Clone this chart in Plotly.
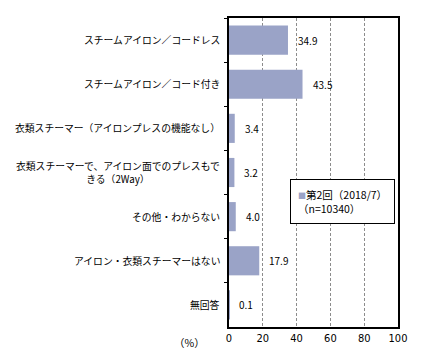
import plotly.graph_objects as go

categories = [
    "スチームアイロン／コードレス",
    "スチームアイロン／コード付き",
    "衣類スチーマー（アイロンプレスの機能なし）",
    "衣類スチーマーで、アイロン面でのプレスもで<br>きる（2Way）",
    "その他・わからない",
    "アイロン・衣類スチーマーはない",
    "無回答",
]
values = [34.9, 43.5, 3.4, 3.2, 4.0, 17.9, 0.1]
series_name = "第2回（2018/7）"
sample_note = "（n=10340）"
x_ticks = [0, 20, 40, 60, 80, 100]

BAR = "#9aa3c7"
FONT = "Noto Sans CJK JP"

fig = go.Figure()
fig.add_trace(go.Bar(
    y=categories, x=values, orientation="h",
    marker=dict(color=BAR, line=dict(width=0)),
    width=0.66, showlegend=False, hoverinfo="skip",
))

annotations = []
for c, v in zip(categories, values):
    annotations.append(dict(
        x=v, y=c, xref="x", yref="y", text=f"{v:.1f}", showarrow=False,
        xanchor="left", xshift=8, font=dict(size=10, color="black", family=FONT),
    ))
    annotations.append(dict(
        x=0, y=c, xref="paper", yref="y", text=c, showarrow=False,
        xanchor="right", xshift=-7, align="center",
        font=dict(size=9.8, color="black", family=FONT),
    ))
annotations.append(dict(
    x=0, y=0, xref="paper", yref="paper", text="（%）", showarrow=False,
    xanchor="right", yanchor="top", xshift=-22, yshift=-6,
    font=dict(size=10.5, color="black", family=FONT),
))
annotations.append(dict(
    x=0.36, y=0.48, xref="paper", yref="paper",
    text=f"<span style='color:{BAR};font-size:8px'>■</span>{series_name}<br>{sample_note}",
    showarrow=False, xanchor="left", yanchor="top", align="left",
    bordercolor="black", borderwidth=1, borderpad=7, bgcolor="white",
    font=dict(size=10.5, color="black", family=FONT),
))

fig.update_layout(
    width=421, height=357,
    margin=dict(l=229, r=23, t=18, b=30, autoexpand=False),
    plot_bgcolor="white", paper_bgcolor="white",
    annotations=annotations,
    xaxis=dict(
        range=[0, 100], tickvals=x_ticks, ticktext=[str(t) for t in x_ticks],
        showgrid=True, gridcolor="#8c8c8c", griddash="3px,2px", gridwidth=1,
        showline=True, linecolor="black", linewidth=1.5, mirror=True,
        ticks="", zeroline=False, automargin=False,
        tickfont=dict(size=11, color="black", family="DejaVu Sans Condensed, " + FONT),
    ),
    yaxis=dict(
        categoryorder="array", categoryarray=categories, autorange="reversed",
        showticklabels=False, tickson="boundaries", ticks="outside", ticklen=3,
        tickcolor="black", showline=True, linecolor="black", linewidth=1.5,
        mirror=True, showgrid=False, automargin=False,
    ),
)

fig.write_html("out.html", config={"displayModeBar": False},
               post_script="document.body.style.margin='0';")
